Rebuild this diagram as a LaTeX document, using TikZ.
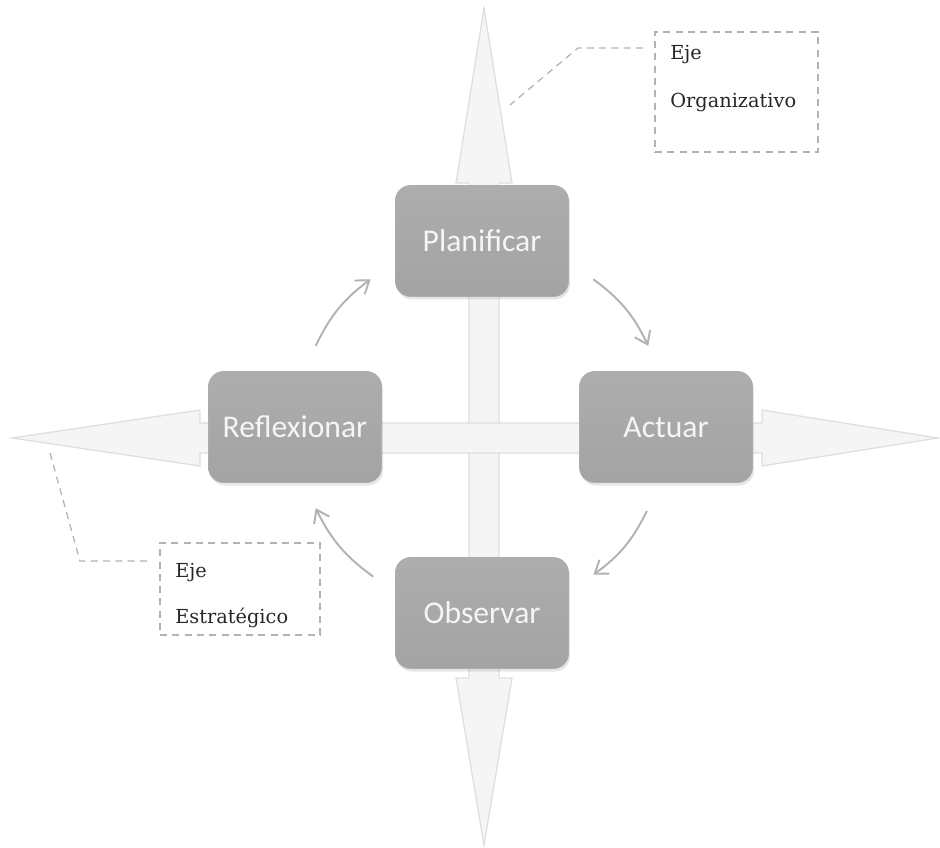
\documentclass[tikz,border=0pt]{standalone}
\usepackage{fontspec}
\setmainfont{DejaVu Serif}
\newfontfamily\boxfont{Carlito}
\usetikzlibrary{shadows,arrows.meta}

\begin{document}
\begin{tikzpicture}[
    stage/.style={rounded corners=0.3cm, minimum width=3.46cm, minimum height=2.22cm,
      top color=black!32, bottom color=black!36, draw=black!32, text=white!96!black,
      font=\boxfont\fontsize{18}{22}\selectfont,
      drop shadow={opacity=0.2, shadow xshift=0.03, shadow yshift=-0.06}},
    axis/.style={fill=black!4, draw=black!13, line width=0.7pt, line join=miter},
    cycle/.style={draw=black!30, line width=1.1pt, -{Straight Barb[length=2.4mm, width=3.4mm]}},
    callout/.style={draw=black!30, dash pattern=on 4pt off 3pt, line width=0.7pt,
      minimum width=3.26cm, minimum height=2.4cm},
    leader/.style={draw=black!30, dash pattern=on 4pt off 3pt, line width=0.7pt},
    calltext/.style={anchor=base west, text=black!85, font=\fontsize{11}{13}\selectfont, inner sep=0pt}
  ]
  \useasboundingbox (0,0) rectangle (18.8,16.94);

  \draw[axis] (9.68,16.78) -- (10.24,13.28) -- (9.98,13.28) -- (9.98,3.38) -- (10.24,3.38)
    -- (9.68,0.04) -- (9.12,3.38) -- (9.38,3.38) -- (9.38,13.28) -- (9.12,13.28) -- cycle;
  \draw[axis] (0.24,8.18) -- (4.0,8.74) -- (4.0,8.48) -- (15.24,8.48) -- (15.24,8.74)
    -- (18.76,8.18) -- (15.24,7.62) -- (15.24,7.88) -- (4.0,7.88) -- (4.0,7.62) -- cycle;

  \node[stage] at (9.64,12.12) (plan) {Planificar};
  \node[stage] at (5.9,8.4) (refl) {Reflexionar};
  \node[stage] at (13.32,8.4) (act) {Actuar};
  \node[stage] at (9.64,4.68) (obs) {Observar};

  \coordinate (ring) at (9.64,8.4);
  \coordinate (c1) at ([shift={(154:3.7)}]ring);
  \coordinate (c2) at ([shift={(127:3.7)}]ring);
  \coordinate (c3) at ([shift={(53:3.7)}]ring);
  \coordinate (c4) at ([shift={(26:3.7)}]ring);
  \coordinate (c5) at ([shift={(-27:3.7)}]ring);
  \coordinate (c6) at ([shift={(-53:3.7)}]ring);
  \coordinate (c7) at ([shift={(234:3.7)}]ring);
  \coordinate (c8) at ([shift={(206:3.7)}]ring);

  \draw[cycle] (c1) to[bend left=14] (c2);
  \draw[cycle] (c3) to[bend left=14] (c4);
  \draw[cycle] (c5) to[bend left=14] (c6);
  \draw[cycle] (c7) to[bend left=14] (c8);

  \node[callout] at (14.73,15.1) (orgbox) {};
  \node[calltext] at (13.4,15.74) (orgeje) {Eje};
  \node[calltext] at (13.4,14.78) (orgname) {Organizativo};
  \coordinate (orgstart) at (12.86,15.98);
  \coordinate (orgbend) at (11.56,15.98);
  \coordinate (orgend) at (10.2,14.84);
  \draw[leader] (orgstart) -- (orgbend) -- (orgend);

  \node[callout, minimum width=3.2cm, minimum height=1.84cm] at (4.8,5.16) (estbox) {};
  \node[calltext] at (3.5,5.4) (esteje) {Eje};
  \node[calltext] at (3.5,4.48) (estname) {Estratégico};
  \coordinate (eststart) at (2.94,5.72);
  \coordinate (estbend) at (1.6,5.72);
  \coordinate (estend) at (1.0,7.88);
  \draw[leader] (eststart) -- (estbend) -- (estend);
\end{tikzpicture}
\end{document}
